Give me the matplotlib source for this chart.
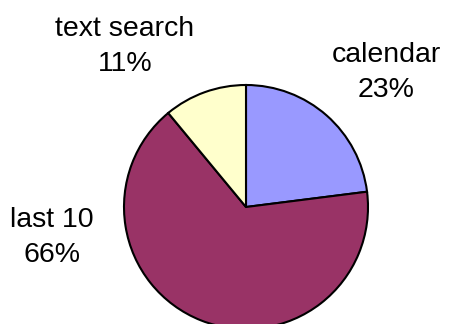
import matplotlib.pyplot as plt

# данные
categories = ["calendar", "last 10", "text search"]
shares = [23, 66, 11]
colors = ["#9999FF", "#993366", "#FFFFCC"]

plt.rcParams["font.family"] = ["Liberation Sans", "DejaVu Sans"]

fig = plt.figure(figsize=(4.49, 3.24), dpi=100)
ax = fig.add_axes([0, 0, 1, 1])
ax.set_xlim(0, 449)
ax.set_ylim(0, 324)
ax.set_aspect("equal")
ax.axis("off")

ax.pie(shares, colors=colors, startangle=90, counterclock=False,
       center=(246, 117), radius=122, frame=True,
       wedgeprops=dict(edgecolor="black", linewidth=1.5))
ax.set_xlim(0, 449)
ax.set_ylim(0, 324)
ax.axis("off")

# подписи: (x, baseline y первой строки) в пикселях сверху
label_pos = {"calendar": (386, 62), "last 10": (52, 227), "text search": (125, 36)}
for name, val in zip(categories, shares):
    x, y = label_pos[name]
    ax.text(x, 324 - y, name, ha="center", va="baseline", fontsize=20.5)
    ax.text(x, 324 - y - 35, f"{val}%", ha="center", va="baseline", fontsize=20.5)

fig.savefig("out.png", dpi=100)
